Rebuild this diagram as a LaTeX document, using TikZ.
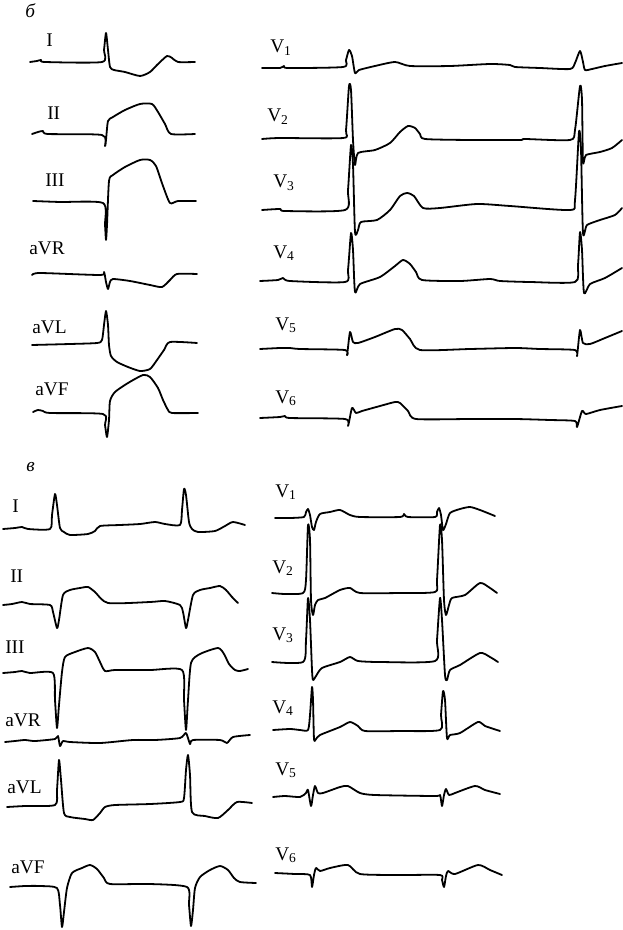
\documentclass[tikz,border=0pt]{standalone}
\usepackage{fontspec}
\setmainfont{Liberation Serif}
\usepackage{tikz}

\begin{document}
\begin{tikzpicture}[x=0.75pt, y=-0.75pt,
    trace/.style={line width=1.35pt, line join=round, line cap=round},
    lead/.style={anchor=base west, inner sep=0pt, font=\fontsize{14.5}{17}\selectfont},
    panel/.style={anchor=base west, inner sep=0pt, font=\fontsize{14.5}{17}\selectfont\itshape}]
    \useasboundingbox (0,0) rectangle (622,930);

    % panel b, limb leads
    \node [panel] (tagb) at (25,18) {б};
    \node [lead] (bI) at (46,47) {I};
    \node [lead] (bII) at (47,120) {II};
    \node [lead] (bIII) at (45,187) {III};
    \node [lead] (baVR) at (29,255) {aVR};
    \node [lead] (baVL) at (32,333) {aVL};
    \node [lead] (baVF) at (35,395) {aVF};

    \draw[trace] plot[smooth, tension=0.4] coordinates {(30,62) (37,61) (41,60) (45,62) (102,62) (104,50) (106,33) (108,50) (110,67) (114,70) (125,72) (140,76) (150,72) (157,65) (167,56) (172,58) (178,62) (195,62)};
    \draw[trace] plot[smooth, tension=0.4] coordinates {(32,134) (38,132) (43,131) (48,134) (102,135) (105,146) (106,140) (108,121) (113,117) (125,110) (140,104) (152,104) (158,112) (165,124) (171,134) (195,134)};
    \draw[trace] plot[smooth, tension=0.4] coordinates {(33,201) (60,202) (103,203) (105,225) (106,240) (107,225) (109,181) (113,175) (125,167) (140,160) (150,160) (156,166) (163,186) (170,203) (178,201) (196,201)};
    \draw[trace] plot[smooth, tension=0.4] coordinates {(32,275) (40,273) (100,275) (104,272) (106,282) (108,289) (110,282) (113,279) (130,281) (150,285) (162,287) (170,280) (177,274) (197,274)};
    \draw[trace] plot[smooth, tension=0.4] coordinates {(32,345) (70,344) (97,343) (102,340) (104,325) (106,311) (108,325) (109,345) (111,356) (117,362) (128,367) (140,371) (150,369) (157,360) (164,350) (170,342) (197,343)};
    \draw[trace] plot[smooth, tension=0.4] coordinates {(33,412) (38,410) (43,411) (50,413) (103,414) (105,425) (107,437) (109,420) (110,401) (115,392) (128,383) (143,375) (150,377) (158,388) (163,400) (168,410) (172,413) (198,413)};

    % panel b, chest leads
    \node [lead] (bV1) at (270,53) {V\textsubscript{1}};
    \node [lead] (bV2) at (267,122) {V\textsubscript{2}};
    \node [lead] (bV3) at (273,188) {V\textsubscript{3}};
    \node [lead] (bV4) at (273,258) {V\textsubscript{4}};
    \node [lead] (bV5) at (275,330) {V\textsubscript{5}};
    \node [lead] (bV6) at (275,403) {V\textsubscript{6}};

    \draw[trace] plot[smooth, tension=0.4] coordinates {(262,68) (280,68) (284,66) (288,68) (343,67) (346,60) (349,50) (352,56) (355,73) (359,70) (375,66) (395,62) (410,66) (450,66) (490,64) (510,65) (515,67) (540,68) (570,69) (575,63) (580,51) (583,62) (585,70) (592,69) (605,66) (622,63)};
    \draw[trace] plot[smooth, tension=0.4] coordinates {(262,139) (280,138) (343,138) (346,130) (349,86) (351,90) (353,140) (355,165) (358,153) (375,150) (390,143) (400,132) (408,126) (415,128) (420,134) (425,139) (470,140) (520,140) (525,139) (570,140) (575,130) (580,86) (582,100) (583,162) (586,155) (600,152) (612,148) (622,140)};
    \draw[trace] plot[smooth, tension=0.4] coordinates {(262,210) (280,209) (285,211) (345,210) (348,190) (351,145) (353,165) (355,232) (358,230) (361,222) (377,220) (390,210) (400,196) (407,193) (414,196) (423,208) (440,208) (477,204) (510,206) (570,210) (575,200) (579,132) (581,150) (583,233) (587,225) (600,220) (615,215) (622,208)};
    \draw[trace] plot[smooth, tension=0.4] coordinates {(260,281) (278,280) (283,278) (290,281) (345,282) (348,270) (351,233) (353,250) (355,292) (360,284) (380,277) (395,266) (403,260) (410,264) (416,272) (422,280) (460,281) (490,279) (500,281) (530,282) (575,282) (578,265) (580,232) (582,250) (584,293) (590,284) (605,278) (622,268)};
    \draw[trace] plot[smooth, tension=0.4] coordinates {(260,349) (280,348) (290,348) (300,349) (345,350) (347,355) (350,332) (353,342) (358,343) (375,337) (395,329) (402,330) (410,339) (420,350) (470,349) (515,348) (540,349) (575,350) (577,356) (580,330) (583,343) (590,344) (605,338) (622,331)};
    \draw[trace] plot[smooth, tension=0.4] coordinates {(260,418) (280,417) (285,416) (290,418) (345,419) (348,426) (352,408) (356,413) (362,411) (380,406) (395,402) (400,403) (408,411) (416,419) (470,419) (515,419) (550,420) (575,421) (577,427) (582,411) (586,414) (600,410) (622,406)};

    % panel v, limb leads
    \node [panel] (tagv) at (26,471) {в};
    \node [lead] (vI) at (12,512) {I};
    \node [lead] (vII) at (10,582) {II};
    \node [lead] (vIII) at (5,653) {III};
    \node [lead] (vaVR) at (5,726) {aVR};
    \node [lead] (vaVL) at (7,793) {aVL};
    \node [lead] (vaVF) at (11,873) {aVF};

    \draw[trace] plot[smooth, tension=0.4] coordinates {(3,529) (15,528) (22,527) (28,529) (50,529) (52,515) (55,494) (57,505) (60,528) (64,532) (70,535) (88,534) (95,531) (100,526) (120,525) (140,524) (155,522) (165,524) (180,525) (182,510) (184,489) (186,495) (189,522) (192,529) (198,532) (215,531) (225,526) (233,522) (245,525)};
    \draw[trace] plot[smooth, tension=0.4] coordinates {(3,605) (12,604) (22,602) (30,604) (50,605) (53,612) (57,628) (59,620) (63,595) (70,590) (80,588) (88,587) (95,592) (108,603) (150,602) (165,601) (180,605) (183,612) (186,628) (188,620) (193,595) (200,590) (210,588) (220,586) (226,590) (232,597) (238,603)};
    \draw[trace] plot[smooth, tension=0.4] coordinates {(3,673) (15,672) (22,671) (30,673) (53,673) (55,700) (57,728) (59,705) (62,672) (65,657) (75,652) (88,648) (95,652) (100,662) (105,671) (115,670) (150,670) (182,670) (184,700) (186,730) (188,700) (191,663) (200,654) (218,648) (224,654) (229,664) (235,670) (240,671) (248,669)};
    \draw[trace] plot[smooth, tension=0.4] coordinates {(5,742) (15,741) (25,740) (35,741) (55,739) (58,736) (60,746) (63,741) (70,742) (100,743) (133,740) (155,740) (180,738) (186,733) (190,744) (193,740) (220,740) (227,743) (233,737) (250,735)};
    \draw[trace] plot[smooth, tension=0.4] coordinates {(7,807) (25,806) (55,805) (57,790) (59,760) (61,780) (64,813) (70,817) (85,819) (93,820) (100,813) (105,807) (115,805) (150,804) (180,802) (184,798) (186,770) (188,755) (190,775) (192,812) (205,816) (218,818) (228,810) (237,802) (252,803)};
    \draw[trace] plot[smooth, tension=0.4] coordinates {(10,887) (25,886) (40,886) (57,888) (60,905) (62,927) (64,912) (67,888) (72,873) (82,868) (90,865) (97,869) (104,878) (110,884) (150,884) (187,887) (189,905) (191,926) (193,910) (195,888) (200,877) (210,870) (220,866) (228,870) (234,878) (240,882) (256,883)};

    % panel v, chest leads
    \node [lead] (vV1) at (275,497) {V\textsubscript{1}};
    \node [lead] (vV2) at (272,573) {V\textsubscript{2}};
    \node [lead] (vV3) at (272,640) {V\textsubscript{3}};
    \node [lead] (vV4) at (272,713) {V\textsubscript{4}};
    \node [lead] (vV5) at (275,775) {V\textsubscript{5}};
    \node [lead] (vV6) at (275,860) {V\textsubscript{6}};

    \draw[trace] plot[smooth, tension=0.4] coordinates {(275,518) (290,518) (304,517) (306,512) (308,509) (310,515) (312,527) (314,530) (316,522) (320,514) (330,512) (340,510) (350,515) (360,517) (400,517) (404,514) (408,517) (435,517) (437,512) (439,508) (441,515) (443,530) (446,524) (450,513) (460,509) (470,507) (480,510) (495,516)};
    \draw[trace] plot[smooth, tension=0.4] coordinates {(272,593) (285,594) (303,593) (306,580) (308,525) (310,540) (311,600) (313,615) (315,605) (318,600) (325,598) (340,590) (350,588) (360,593) (400,593) (435,592) (437,580) (440,525) (442,540) (444,600) (446,615) (449,605) (452,598) (465,595) (480,583) (490,588) (497,593)};
    \draw[trace] plot[smooth, tension=0.4] coordinates {(272,662) (303,662) (306,640) (308,598) (310,620) (312,670) (313,680) (316,676) (322,668) (340,662) (350,657) (358,661) (380,662) (435,661) (437,640) (440,598) (442,620) (445,675) (447,680) (450,670) (460,665) (480,653) (490,657) (498,662)};
    \draw[trace] plot[smooth, tension=0.4] coordinates {(273,730) (290,729) (300,730) (308,730) (310,715) (312,687) (313,700) (314,739) (316,739) (320,735) (340,727) (350,722) (358,726) (365,731) (400,731) (440,730) (441,715) (443,691) (445,700) (447,738) (450,735) (460,733) (478,722) (485,726) (500,731)};
    \draw[trace] plot[smooth, tension=0.4] coordinates {(273,797) (285,796) (300,797) (306,793) (308,790) (311,806) (313,795) (315,786) (318,793) (323,793) (340,787) (348,786) (360,793) (375,795) (435,796) (440,795) (442,806) (444,795) (446,789) (449,795) (455,793) (475,786) (485,790) (500,794)};
    \draw[trace] plot[smooth, tension=0.4] coordinates {(275,873) (295,874) (310,875) (312,887) (314,875) (316,868) (320,871) (330,868) (348,865) (360,874) (400,875) (440,875) (442,880) (444,887) (446,876) (448,871) (455,874) (478,865) (490,870) (502,875)};
\end{tikzpicture}
\end{document}
